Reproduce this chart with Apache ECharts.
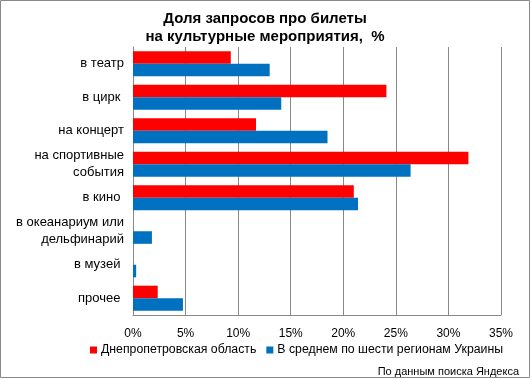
<!DOCTYPE html>
<html>
<head>
<meta charset="utf-8">
<script src="https://cdn.jsdelivr.net/npm/echarts@6/dist/echarts.min.js"></script>
<style>
html,body{margin:0;padding:0;background:#fff;}
#c{width:530px;height:379px;box-sizing:border-box;}
</style>
</head>
<body>
<div id="c"></div>
<script>
var categories = ['в театр', 'в цирк ', 'на концерт', 'на спортивные\nсобытия', 'в кино ', 'в океанариум или\nдельфинарий', 'в музей ', 'прочее '];
var seriesNames = ['Днепропетровская область', 'В среднем по шести регионам Украины'];
var dnipro = [9.3, 24.1, 11.7, 31.9, 21.0, 0, 0, 2.35];
var ukraine = [13.0, 14.1, 18.5, 26.4, 21.4, 1.8, 0.3, 4.75];
var titleText = 'Доля запросов про билеты\nна культурные мероприятия,  %';
var sourceText = 'По данным поиска Яндекса';

var FONT = 'Liberation Sans';
var chart = echarts.init(document.getElementById('c'), null, {renderer: 'canvas'});
chart.setOption({
  backgroundColor: '#fff',
  animation: false,
  title: {
    text: titleText,
    left: 'center',
    top: 5,
    textStyle: {fontFamily: FONT, fontWeight: 'bold', fontSize: 15, color: '#000', lineHeight: 18}
  },
  grid: {left: 133, right: 29, top: 47, bottom: 64, containLabel: false},
  xAxis: {
    type: 'value', min: 0, max: 35, interval: 5,
    axisLine: {show: true, lineStyle: {color: '#888', width: 1}},
    axisTick: {show: false},
    axisLabel: {formatter: '{value}%', fontFamily: FONT, fontSize: 12, color: '#000', margin: 13},
    splitLine: {show: true, lineStyle: {color: '#888', width: 1}}
  },
  yAxis: {
    type: 'category', data: categories, inverse: true,
    axisLine: {show: true, lineStyle: {color: '#888', width: 1}},
    axisTick: {show: false},
    axisLabel: {fontFamily: FONT, fontSize: 13, color: '#000', margin: 9, lineHeight: 17}
  },
  legend: {
    left: 85, top: 339, itemWidth: 7, itemHeight: 7, itemGap: 10, icon: 'rect',
    textStyle: {fontFamily: FONT, fontSize: 12.3, color: '#000', padding: [0,0,0,-1]},
    data: seriesNames
  },
  graphic: [
    {type: 'rect', shape: {x: 0.5, y: 0.5, width: 529, height: 377}, style: {fill: 'none', stroke: '#888', lineWidth: 1}, silent: true},
    {type: 'text', right: 11, top: 366, style: {text: sourceText, fontFamily: FONT, fontSize: 11, fill: '#000'}}
  ],
  series: [
    {name: seriesNames[0], type: 'bar', data: dnipro, barGap: '0%', barCategoryGap: '25%', itemStyle: {color: '#ff0000'}},
    {name: seriesNames[1], type: 'bar', data: ukraine, barGap: '0%', barCategoryGap: '25%', itemStyle: {color: '#0070c0'}}
  ]
});
</script>
</body>
</html>
